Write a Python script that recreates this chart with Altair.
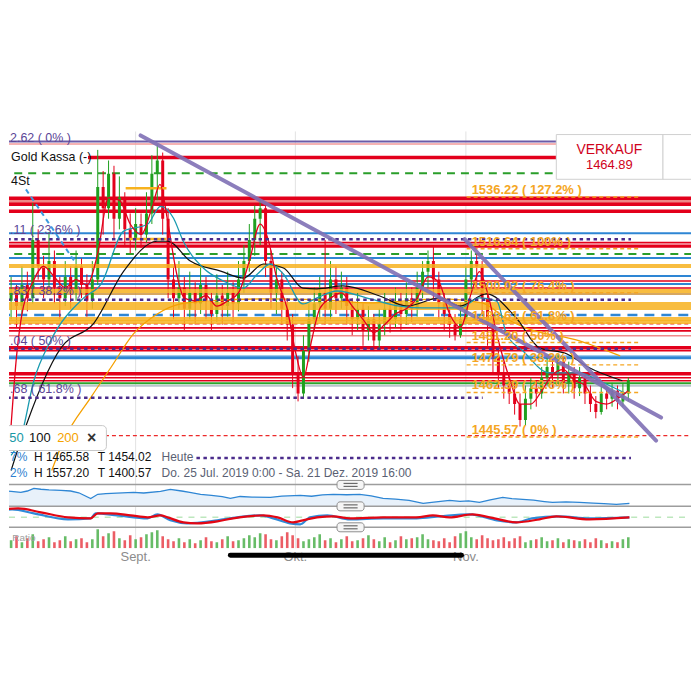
import altair as alt
import pandas as pd

# ------------------------------------------------------------------ windows
X0, X1 = 7.61, 133.58          # visible time window, day number (1 Aug = 0)
P0, P1 = 1427.63, 1560.97      # visible price window
W = 684
FONT = "Liberation Sans"

XS = alt.Scale(domain=[X0, X1], nice=False, zero=False)
YS = alt.Scale(domain=[P0, P1], nice=False, zero=False)
YR = alt.Scale(domain=[0, 100], nice=False, zero=False)   # ratio panel
YM = alt.Scale(domain=[0, 21], nice=False, zero=False)    # oscillator panel
YV = alt.Scale(domain=[0, 21], nice=False, zero=False)    # volume panel

# ------------------------------------------------------------------ data
month_pos = [31, 60.5, 92]
month_names = ["Sept.", "Okt.", "Nov."]

days = list(range(8, 123))
first_open = 1497
closes = [1500, 1495, 1503, 1498, 1520, 1510, 1505, 1512, 1502, 1498, 1506, 1500, 1510, 1503, 1497,
          1505, 1540, 1532, 1545, 1528, 1536, 1524, 1520, 1526, 1522, 1530, 1545, 1550, 1528, 1505,
          1498, 1502, 1494, 1500, 1496, 1503, 1497, 1492, 1499, 1495, 1500, 1496, 1505, 1512, 1520,
          1528, 1532, 1512, 1500, 1505, 1494, 1488, 1470, 1462, 1478, 1490, 1496, 1500, 1494, 1505,
          1498, 1502, 1495, 1490, 1494, 1486, 1490, 1482, 1488, 1494, 1490, 1496, 1492, 1498, 1494,
          1502, 1508, 1512, 1505, 1496, 1492, 1488, 1484, 1490, 1505, 1512, 1510, 1498, 1488, 1476,
          1470, 1465, 1462, 1458, 1452, 1460, 1464, 1462, 1468, 1472, 1470, 1474, 1466, 1470, 1464,
          1468, 1462, 1458, 1455, 1462, 1460, 1463, 1459, 1462, 1467]
highs = [1506, 1503, 1510, 1508, 1534, 1524, 1514, 1523, 1516, 1506, 1512, 1510, 1516, 1513, 1507,
         1512, 1554, 1546, 1550, 1548, 1544, 1538, 1530, 1532, 1530, 1538, 1552, 1556, 1553, 1532,
         1510, 1512, 1506, 1508, 1504, 1510, 1506, 1500, 1507, 1503, 1508, 1504, 1512, 1518, 1526,
         1533, 1535, 1534, 1516, 1510, 1508, 1498, 1492, 1476, 1484, 1496, 1502, 1506, 1520, 1512,
         1510, 1508, 1506, 1498, 1500, 1496, 1495, 1492, 1494, 1500, 1498, 1502, 1500, 1504, 1502,
         1508, 1512, 1516, 1518, 1508, 1500, 1496, 1492, 1496, 1510, 1516, 1515, 1512, 1500, 1490,
         1480, 1474, 1470, 1466, 1462, 1465, 1468, 1467, 1472, 1476, 1476, 1477, 1476, 1474, 1472,
         1472, 1470, 1465, 1461, 1465, 1464, 1466, 1465, 1466, 1468]
lows = [1490, 1487, 1492, 1493, 1496, 1505, 1498, 1502, 1496, 1490, 1495, 1494, 1497, 1498, 1491,
        1494, 1503, 1522, 1528, 1520, 1524, 1518, 1515, 1516, 1517, 1519, 1526, 1535, 1522, 1498,
        1490, 1494, 1486, 1490, 1488, 1492, 1490, 1486, 1489, 1488, 1491, 1489, 1493, 1500, 1508,
        1514, 1518, 1506, 1494, 1492, 1488, 1482, 1464, 1459, 1460, 1474, 1486, 1490, 1488, 1490,
        1492, 1494, 1488, 1484, 1486, 1480, 1482, 1478, 1479, 1484, 1485, 1487, 1486, 1488, 1489,
        1491, 1498, 1502, 1498, 1490, 1486, 1483, 1482, 1483, 1488, 1500, 1502, 1492, 1480, 1470,
        1464, 1460, 1458, 1454, 1449.5, 1450, 1456, 1457, 1460, 1465, 1464, 1466, 1462, 1462, 1460,
        1461, 1458, 1455, 1452.6, 1454, 1456, 1457, 1456, 1457, 1459]
volumes = [8, 12, 6, 10, 14, 7, 9, 11, 6, 8, 12, 7, 9, 10, 6,
           9, 19, 12, 15, 17, 10, 8, 13, 9, 11, 14, 16, 18, 12, 9,
           7, 10, 6, 9, 5, 8, 11, 7, 6, 9, 12, 7, 8, 10, 13,
           11, 15, 14, 9, 8, 12, 16, 13, 10, 7, 9, 11, 14, 8, 10,
           6, 9, 12, 7, 8, 10, 13, 9, 7, 11, 6, 8, 12, 9, 10,
           11, 14, 9, 8, 7, 10, 6, 12, 15, 17, 11, 9, 13, 10, 8,
           9, 11, 7, 10, 12, 6, 8, 9, 11, 7, 8, 10, 6, 9, 8,
           7, 9, 6, 10, 8, 5, 7, 6, 9, 11]

# moving averages
ma_red_d = [8, 9, 10, 12, 14, 16, 18, 20, 22, 24, 26, 28, 30, 32, 34, 35.5, 37, 38.5, 40, 42, 44, 46, 48,
            50, 52, 54, 55.5, 57, 59, 60.5, 62, 63.5, 65, 67, 69, 71, 73, 75, 77, 79, 81, 83, 85, 87,
            89, 91, 93, 94.5, 96, 98, 100, 102, 104, 106, 108, 110, 112, 114, 116, 118, 120, 122]
ma_red_v = [1450, 1476, 1492, 1504, 1510, 1506, 1502, 1505, 1503, 1515, 1536, 1535, 1526, 1522, 1532,
            1541, 1526, 1508, 1498, 1497, 1499, 1495, 1497, 1500, 1512, 1526, 1520, 1506, 1494, 1478,
            1468, 1482, 1494, 1498, 1500, 1495, 1490, 1485, 1488, 1492, 1494, 1498, 1506, 1504, 1492,
            1487, 1500, 1508, 1500, 1482, 1468, 1458, 1458, 1463, 1469, 1471, 1467, 1465, 1459, 1458,
            1460, 1463]
ma50_d = [8.0, 9.8, 12.2, 15.3, 21.4, 24.6, 28.8, 33.2, 35.6, 38.0, 39.8, 43.5, 47.2, 50.9, 53.5, 55.9,
          58.3, 61.9, 64.5, 68.2, 74.3, 79.8, 84.0, 90.9, 94.5, 97.7, 99.5, 102.5, 107.4, 113.0, 116.6, 121.6]
ma50_v = [1438.6, 1445.3, 1466.8, 1481.9, 1498.1, 1503.3, 1523.3, 1525.9, 1532.7, 1528.2, 1519.5,
          1509.4, 1504.5, 1501.8, 1507.1, 1510.9, 1507.1, 1495.8, 1498.1, 1500.7, 1497.7, 1495.0,
          1494.3, 1494.3, 1498.1, 1496.9, 1484.5, 1478.1, 1469.8, 1469.8, 1466.8, 1461.9]
ma100_d = [8.0, 9.8, 17.2, 23.3, 28.8, 35.0, 36.9, 41.1, 46.7, 50.9, 54.6, 58.3, 61.9, 64.5, 69.3, 76.1,
           81.1, 87.2, 90.9, 95.8, 101.3, 105.6, 110.6, 114.8, 120.9]
ma100_v = [1432.9, 1444.2, 1479.2, 1488.6, 1508.2, 1519.5, 1519.5, 1512.0, 1508.2, 1505.6, 1510.9,
           1509.4, 1501.8, 1501.5, 1502.6, 1498.8, 1495.0, 1498.1, 1495.0, 1499.6, 1490.5, 1479.2,
           1477.0, 1471.7, 1466.8]
ma200_d = [15.5, 17.7, 22.7, 26.4, 30.6, 35.0, 39.3, 45, 55, 65, 75, 87, 95, 99.5, 103, 113, 120.5]
ma200_v = [1432.9, 1444.2, 1460.4, 1471.7, 1484.5, 1492.0, 1495.8, 1497.0, 1497.7, 1497.3, 1496.2,
           1497.7, 1496.2, 1490.2, 1486.8, 1481.9, 1476.2]

# drawn trend lines (two anchor points each)
trend_id = ["a", "a", "b", "b"]
trend_d = [31.92, 128.05, 91.77, 127.13]
trend_p = [1559.46, 1452.87, 1520.29, 1444.2]

# Fibonacci retracement (right side)
fib_levels = [1536.22, 1516.64, 1500.02, 1488.61, 1481.20, 1472.79, 1462.39, 1445.57]
fib_labels = ["1536.22 ( 127.2% )", "1516.64 ( 100% )", "1500.02 ( 76.4% )", "1488.61 ( 61.8% )",
              "1481.20 ( 50% )", "1472.79 ( 38.2% )", "1462.39 ( 23.6% )", "1445.57 ( 0% )"]
# Fibonacci retracement (left side)
pfib_p = [1558.4, 1523.68, 1500.7, 1481.87, 1463.79]
pfib_labels = ["2.62 ( 0% )", ".11 ( 23.6% )", ".83 ( 38.2% )", ".04 ( 50% )", ".68 ( 61.8% )"]

# indicator panels
ratio_d = [6.1, 8.0, 9.8, 11.0, 12.2, 13.5, 15.0, 17.2, 19.0, 20.5, 22.7, 24.0, 25.5, 27.5, 30.6, 32.5,
           35.6, 37.4, 39.5, 41.0, 43.0, 45.0, 47.0, 48.5, 50.3, 52.5, 55.9, 58.0, 61.4, 63.5, 65.5,
           67.5, 70.0, 72.4, 74.5, 76.7, 79.0, 81.5, 84.1, 86.5, 89.0, 90.9, 92.5, 94.5, 96.5, 98.8,
           100.5, 102.5, 104.5, 106.5, 108.0, 110.5, 113.0, 115.5, 117.5, 119.8, 122.2]
ratio_v = [73, 68, 64, 70, 82, 78, 75, 73, 70, 62, 36, 55, 58, 60, 64, 61, 68, 77, 70, 64, 55, 50, 44,
           36, 45, 42, 41, 47, 50, 46, 52, 55, 53, 55, 48, 36, 33, 27, 14, 20, 27, 23, 25, 18, 30, 41,
           35, 32, 28, 22, 18, 20, 18, 15, 12, 9, 14]
osc_red_d = [6.1, 9.3, 13.5, 18.5, 22.7, 24.0, 26.4, 30.1, 33.2, 35.6, 36.9, 39.8, 42.4, 46.1, 49.0,
             54.6, 57.2, 60.1, 61.9, 64.5, 67.5, 70.6, 76.7, 82.9, 85.9, 89.0, 93.2, 96.4, 101.3,
             105.6, 108.7, 114.8, 122.2]
osc_red_v = [18, 19, 15, 10, 9, 14, 14, 12, 10, 12, 10, 5, 4, 6, 9, 12, 10, 5, 7, 10, 11, 9, 10, 10,
             12, 10, 13, 10, 5, 8, 11, 8, 10]
osc_blue_d = [6.1, 8.2, 12.2, 18.5, 22.7, 23.6, 27.6, 33.2, 35.0, 37.4, 40.5, 46.1, 49.8, 54.0, 56.4,
              59.5, 61.4, 63.2, 66.4, 70.6, 76.7, 82.9, 87.2, 92.7, 97.7, 101.3, 104.2, 109.2, 114.8, 122.2]
osc_blue_v = [17, 18, 14, 8, 9, 14, 12, 9, 13, 7, 4, 7, 10, 12, 9, 4, 3, 10, 12, 8, 9, 9, 11, 13, 7, 5,
              9, 11, 9, 10]

# ------------------------------------------------------------------ helpers
def xq(f):
    return alt.X(f, type="quantitative", scale=XS, axis=None)


def yq(f, scale=YS):
    return alt.Y(f, type="quantitative", scale=scale, axis=None)


def hlines(levels, start, end, color, width, dash=None, opacity=1.0):
    df = pd.DataFrame({"level": levels, "start": [start] * len(levels), "end": [end] * len(levels)})
    kw = dict(color=color, strokeWidth=width, opacity=opacity, clip=True)
    if dash:
        kw["strokeDash"] = dash
    return alt.Chart(df).mark_rule(**kw).encode(x=xq("start"), x2="end:Q", y=yq("level"))


def curve(ds, vs, color, width, scale=YS, interp="monotone", dash=None, opacity=1.0):
    df = pd.DataFrame({"d": ds, "v": vs})
    kw = dict(color=color, strokeWidth=width, interpolate=interp, clip=True, opacity=opacity)
    if dash:
        kw["strokeDash"] = dash
    return alt.Chart(df).mark_line(**kw).encode(x=xq("d"), y=yq("v", scale))


def texts(ds, ps, labels, color, size, align="left", weight="normal", scale=YS, clip=True,
          baseline="middle"):
    df = pd.DataFrame({"d": ds, "p": ps, "t": labels})
    return alt.Chart(df).mark_text(align=align, baseline=baseline, color=color, fontSize=size,
                                   fontWeight=weight, font=FONT, clip=clip).encode(
        x=xq("d"), y=yq("p", scale), text="t:N")


def box(x1, x2, y1, y2, stroke, radius=0):
    df = pd.DataFrame({"a": [x1], "b": [x2], "u": [y1], "w": [y2]})
    return alt.Chart(df).mark_rect(fill="white", stroke=stroke, strokeWidth=1, cornerRadius=radius,
                                   clip=True).encode(x=xq("a"), x2="b:Q", y=yq("u"), y2="w:Q")


def vgrid():
    return alt.Chart(pd.DataFrame({"d": month_pos})).mark_rule(color="#e2e2e2", strokeWidth=1).encode(
        x=xq("d"))


def separator(top_v, scale, hb):
    sep = alt.Chart(pd.DataFrame({"a": [X0], "b": [X1], "v": [top_v]})).mark_rule(
        color="#9d9d9d", strokeWidth=1.5).encode(x=xq("a"), x2="b:Q", y=yq("v", scale))
    hnd = alt.Chart(pd.DataFrame({"a": [68.2], "b": [73.2], "v": [hb[0]], "v2": [hb[1]]})).mark_rect(
        fill="#f5f5f5", stroke="#8e8e8e", strokeWidth=1, cornerRadius=3).encode(
        x=xq("a"), x2="b:Q", y=yq("v", scale), y2="v2:Q")
    bars = alt.Chart(pd.DataFrame({"a": [69.4, 69.4], "b": [72.0, 72.0], "v": [hb[2], hb[3]]})).mark_rule(
        color="#6a6a6a", strokeWidth=1.2).encode(x=xq("a"), x2="b:Q", y=yq("v", scale))
    return [sep, hnd, bars]


# ------------------------------------------------------------------ candles
opens = [first_open] + closes[:-1]
cdf = pd.DataFrame({"d": days, "open": opens, "close": closes, "high": highs, "low": lows,
                    "vol": volumes})
cdf["dir"] = ["up" if c >= o else "down" for o, c in zip(opens, closes)]
CCOL = alt.Scale(domain=["up", "down"], range=["#1fa01f", "#e3001b"])

wicks = alt.Chart(cdf).mark_rule(strokeWidth=1, clip=True).encode(
    x=xq("d"), y=yq("low"), y2="high:Q", color=alt.Color("dir:N", scale=CCOL, legend=None))
bodies = alt.Chart(cdf).mark_rule(strokeWidth=3, clip=True).encode(
    x=xq("d"), y=yq("open"), y2="close:Q", color=alt.Color("dir:N", scale=CCOL, legend=None))

RED = "#e3001b"
BLUE = "#2e86d4"
ORANGE = "#f7b21e"
PURPLE = "#4b2c8c"
FIBC = "#f5a623"

main_layers = [
    vgrid(),
    hlines([1557.2], 6, 108.7, "#6c5ba8", 2),
    hlines([1556.26], 6, 108.7, "#f39a9a", 1.5),
    hlines([1551.17], 22.2, 108.7, RED, 3.5),
    hlines([1545.15], 6, 108.7, "#2a9e2a", 2, dash=[8, 6]),
    hlines([1514.63], 6, 136, "#2a9e2a", 2, dash=[8, 6]),
    hlines([1534.6], 6, 136, "#f08585", 4),
    hlines([1535.73, 1533.47, 1530.83, 1517.65, 1479.26, 1469.44], 6, 136, RED, 3.5),
    hlines([1518.97, 1504.47, 1501.83, 1486.77, 1485.64, 1478.1, 1467.94, 1466.8], 6, 136, RED, 1.6),
    hlines([1483.76], 6, 136, "#f08a8a", 1.5),
    hlines([1488.27, 1446.09], 6, 136, "#ec2a2a", 1.2, dash=[4, 3]),
    hlines([1522.55, 1513.13, 1506.35, 1503.34], 6, 136, BLUE, 2),
    hlines([1476.22], 6, 136, "#9ccbef", 1.5),
    hlines([1475.47], 6, 136, BLUE, 3),
    hlines([1491.66], 6, 136, BLUE, 2.5, dash=[10, 7]),
    hlines([1465.86], 6, 136, "#2ca52c", 2),
    hlines([1464.92], 6, 136, "#b9c3cc", 2),
    hlines([1499.57], 6, 136, "#c98a2e", 1.5),
    wicks,
    bodies,
    hlines([1510.12, 1500.7, 1495.8, 1494.3, 1490.16, 1489.0], 6, 136, ORANGE, 4, opacity=0.85),
    hlines([1539.5, 1520.3], 29.16, 36.7, ORANGE, 2.5),
    curve(ma200_d, ma200_v, "#f5a000", 1.3),
    curve(ma100_d, ma100_v, "#111111", 1.2),
    curve(ma50_d, ma50_v, "#1a9bb0", 1.3),
    curve(ma_red_d, ma_red_v, "#e3001b", 1.3),
    hlines(fib_levels, 92.14, 124.0, FIBC, 1.5, dash=[4, 3]),
    hlines([1520.24, 1497.37, 1478.89], 6, 122.5, PURPLE, 2.5, dash=[3.5, 3.5]),
    hlines([1460.40], 6, 95.1, PURPLE, 2.5, dash=[3.5, 3.5]),
    hlines([1437.6], 42.23, 122.5, PURPLE, 2.5, dash=[3.5, 3.5]),
    curve([10.74, 19.95], [1539.1, 1511.2], "#3d9be0", 2, interp="linear", dash=[5, 4]),
    alt.Chart(pd.DataFrame({"id": trend_id, "d": trend_d, "p": trend_p})).mark_line(
        color="#7f70b5", strokeWidth=4, opacity=0.9, strokeCap="round", clip=True).encode(
        x=xq("d"), y=yq("p"), detail="id:N"),
    texts([93.06] * len(fib_levels), [v + 1.1 for v in fib_levels], fib_labels, FIBC, 13,
          weight="bold", baseline="alphabetic"),
    texts([7.8] * len(pfib_p), pfib_p, pfib_labels, "#5b4596", 12.5),
    # legend box
    box(5, 25.6, 1449.85, 1440.44, "#c8c8c8", radius=4),
    texts([9.0], [1445.33], ["50"], "#1799a6", 13, align="center"),
    texts([13.3], [1445.33], ["100"], "#111111", 13, align="center"),
    texts([18.5], [1445.33], ["200"], "#f5a300", 13, align="center"),
    texts([22.9], [1445.33], ["×"], "#333333", 16, align="center", weight="bold"),
    # info rows
    texts([7.8, 7.8], [1437.8, 1431.77], ["7%", "2%"], "#2d7fd0", 12),
    texts([12.22, 24.0, 12.22, 24.0], [1437.8, 1437.8, 1431.77, 1431.77],
          ["H 1465.58", "T 1454.02", "H 1557.20", "T 1400.57"], "#111111", 12),
    texts([35.79, 35.79], [1437.8, 1431.77],
          ["Heute", "Do. 25 Jul. 2019 0:00 - Sa. 21 Dez. 2019 16:00"], "#5a5f73", 12),
    # instrument labels
    texts([8.0, 8.0], [1551.17, 1542.13], ["Gold Kassa (-)", "4St"], "#111111", 12.5),
    # sell / buy box
    box(108.7, 128.4, 1559.8, 1542.9, "#d0d0d0"),
    box(128.4, 150, 1559.8, 1542.9, "#d0d0d0"),
    texts([118.5], [1553.81], ["VERKAUF"], "#d0021b", 14, align="center"),
    texts([118.5], [1548.16], ["1464.89"], "#d0021b", 13, align="center"),
]
main = alt.layer(*main_layers).properties(width=W, height=354)

# ------------------------------------------------------------------ panel 2 (ratio)
p2 = alt.layer(
    vgrid(),
    alt.Chart(pd.DataFrame({"d": ratio_d, "v": ratio_v})).mark_area(
        color="#e8f1fa", clip=True).encode(x=xq("d"), y=yq("v", YR)),
    curve(ratio_d, ratio_v, "#2e86d4", 1.3, scale=YR, interp="linear"),
    *separator(100, YR, (118.2, 77.3, 104.5, 90.9)),
).properties(width=W, height=22)

# ------------------------------------------------------------------ panel 3 (oscillator)
p3 = alt.layer(
    vgrid(),
    curve([X0, X1], [10, 10], "#7ccf7c", 1.5, scale=YM, interp="linear", dash=[6, 6], opacity=0.5),
    curve(osc_blue_d, osc_blue_v, "#2f8ad8", 2.2, scale=YM),
    curve(osc_red_d, osc_red_v, "#e30613", 2.2, scale=YM),
    *separator(21, YM, (25.5, 16.5, 22.5, 19.5)),
).properties(width=W, height=21)

# ------------------------------------------------------------------ panel 4 (volume + time labels)
vol_col = alt.Scale(domain=["up", "down"], range=["#4cb04c", "#e8414a"])
p4 = alt.layer(
    vgrid(),
    alt.Chart(cdf).transform_calculate(base="0").mark_rule(strokeWidth=2.6, opacity=0.85, clip=True).encode(
        x=xq("d"), y=yq("base:Q", YV), y2="vol:Q",
        color=alt.Color("dir:N", scale=vol_col, legend=None)),
    texts([8.2], [10], ["Ratio"], "#a0a0a0", 10, scale=YV),
    *separator(21, YV, (25.5, 16.5, 22.5, 19.5)),
    texts(month_pos, [-9, -9, -9], month_names, "#8c8c8c", 13, align="center", scale=YV, clip=False),
    alt.Chart(pd.DataFrame({"a": [48.5], "b": [91.2], "v": [-7]})).mark_rule(
        color="#000000", strokeWidth=5, strokeCap="round").encode(x=xq("a"), x2="b:Q", y=yq("v", YV)),
).properties(width=W, height=21)

chart = alt.vconcat(main, p2, p3, p4, spacing=0, bounds="flush").resolve_scale(
    x="shared", y="independent", color="independent"
).properties(
    padding={"top": 122, "left": 0, "right": 0, "bottom": 0}
).configure_view(stroke=None)

chart.save("out.html", embed_options={"renderer": "svg", "actions": False})
